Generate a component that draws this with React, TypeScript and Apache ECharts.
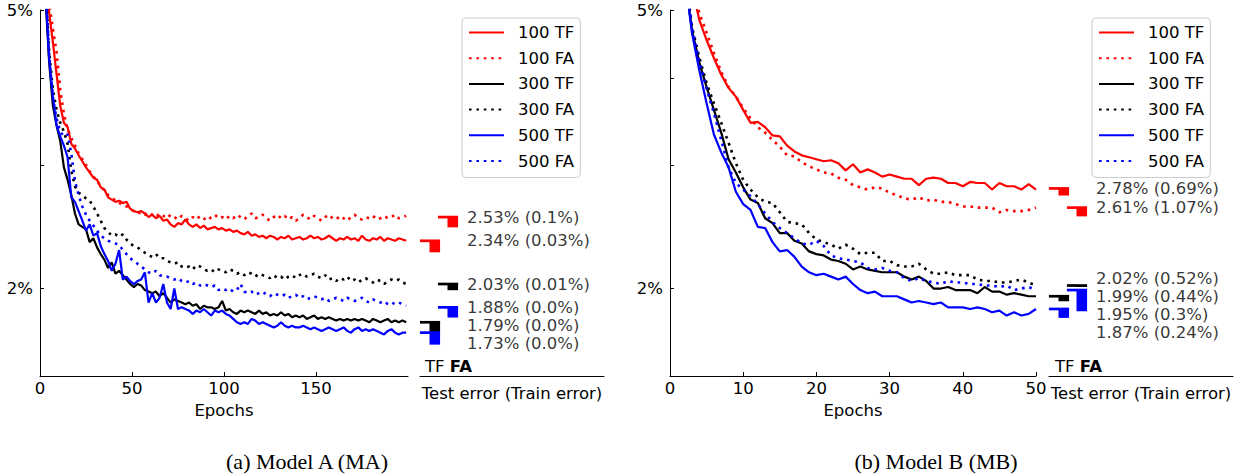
import React, { useEffect, useRef } from "react";
import * as echarts from "echarts";

const FONT = '"DejaVu Sans", sans-serif';
const SERIF = '"Liberation Serif", "Times New Roman", serif';

const seriesNames = ["100 TF", "100 FA", "300 TF", "300 FA", "500 TF", "500 FA"];
const seriesColors = ["#ff0000", "#ff0000", "#000000", "#000000", "#0000ff", "#0000ff"];
const seriesDotted = [false, true, false, true, false, true];
const markerColumn = ["TF", "FA", "TF", "FA", "TF", "FA"];
const columnIndex: Record<string, number> = { TF: 1, FA: 2 };

// ---------- Model A (MA): test error (%) at odd epochs 1..199 ----------
const epochsA = Array.from({ length: 100 }, (_, i) => 2 * i + 1);
const a100TF = [
  9.0, 6.0, 4.95, 4.5, 4.05, 3.65, 3.45, 3.40, 3.22, 3.17,
  3.10, 3.04, 2.98, 2.93, 2.88, 2.86, 2.79, 2.77, 2.70, 2.68,
  2.66, 2.67, 2.65, 2.66, 2.60, 2.58, 2.57, 2.58, 2.56, 2.53,
  2.55, 2.52, 2.54, 2.50, 2.51, 2.47, 2.45, 2.48, 2.47, 2.51,
  2.47, 2.45, 2.47, 2.44, 2.46, 2.43, 2.44, 2.45, 2.43, 2.44,
  2.42, 2.43, 2.41, 2.42, 2.40, 2.39, 2.41, 2.38, 2.39, 2.37,
  2.38, 2.36, 2.38, 2.37, 2.35, 2.37, 2.36, 2.38, 2.35, 2.36,
  2.37, 2.35, 2.36, 2.38, 2.36, 2.37, 2.35, 2.36, 2.38, 2.36,
  2.34, 2.36, 2.35, 2.37, 2.35, 2.36, 2.34, 2.38, 2.35, 2.34,
  2.36, 2.35, 2.37, 2.34, 2.36, 2.35, 2.34, 2.36, 2.35, 2.34,
];
const a100FA = [
  9.5, 6.5, 5.1, 4.7, 4.35, 3.85, 3.55, 3.38, 3.28, 3.20,
  3.12, 3.06, 3.00, 2.94, 2.89, 2.85, 2.80, 2.76, 2.72, 2.70,
  2.67, 2.65, 2.64, 2.62, 2.60, 2.58, 2.56, 2.57, 2.55, 2.57,
  2.55, 2.53, 2.56, 2.54, 2.52, 2.55, 2.53, 2.51, 2.54, 2.52,
  2.50, 2.53, 2.51, 2.54, 2.52, 2.50, 2.53, 2.55, 2.52, 2.53,
  2.51, 2.54, 2.52, 2.55, 2.53, 2.51, 2.54, 2.56, 2.52, 2.53,
  2.55, 2.52, 2.50, 2.53, 2.55, 2.52, 2.54, 2.51, 2.53, 2.50,
  2.52, 2.55, 2.53, 2.51, 2.54, 2.52, 2.50, 2.53, 2.55, 2.52,
  2.51, 2.54, 2.52, 2.50, 2.53, 2.55, 2.52, 2.51, 2.53, 2.52,
  2.54, 2.51, 2.52, 2.54, 2.52, 2.53, 2.55, 2.52, 2.53, 2.54,
];
const a300TF = [
  8.0, 5.2, 4.2, 3.65, 3.42, 3.25, 2.98, 2.86, 2.72, 2.56,
  2.47, 2.45, 2.43, 2.33, 2.36, 2.29, 2.24, 2.20, 2.14, 2.18,
  2.10, 2.12, 2.09, 2.06, 2.03, 2.01, 2.03, 2.02, 1.99, 1.98,
  1.97, 1.98, 1.95, 1.97, 1.94, 1.91, 1.93, 1.92, 1.91, 1.90,
  1.91, 1.89, 1.90, 1.87, 1.89, 1.88, 1.88, 1.87, 1.88, 1.92,
  1.86, 1.87, 1.85, 1.84, 1.86, 1.85, 1.86, 1.85, 1.84, 1.86,
  1.84, 1.85, 1.83, 1.84, 1.83, 1.85, 1.83, 1.84, 1.82, 1.83,
  1.82, 1.83, 1.81, 1.82, 1.83, 1.81, 1.82, 1.81, 1.82, 1.81,
  1.80, 1.81, 1.80, 1.81, 1.80, 1.81, 1.80, 1.81, 1.80, 1.79,
  1.81, 1.80, 1.79, 1.80, 1.81, 1.79, 1.80, 1.79, 1.80, 1.79,
];
const a300FA = [
  8.5, 5.4, 4.35, 3.85, 3.60, 3.45, 3.35, 3.22, 2.95, 2.80,
  2.74, 2.72, 2.69, 2.67, 2.62, 2.56, 2.50, 2.44, 2.41, 2.38,
  2.39, 2.37, 2.39, 2.35, 2.32, 2.30, 2.29, 2.27, 2.25, 2.23,
  2.22, 2.24, 2.21, 2.21, 2.19, 2.18, 2.17, 2.18, 2.15, 2.14,
  2.15, 2.13, 2.16, 2.15, 2.13, 2.12, 2.13, 2.11, 2.13, 2.12,
  2.11, 2.13, 2.12, 2.10, 2.11, 2.09, 2.11, 2.10, 2.08, 2.10,
  2.09, 2.08, 2.07, 2.09, 2.07, 2.08, 2.06, 2.08, 2.09, 2.07,
  2.09, 2.10, 2.08, 2.09, 2.10, 2.08, 2.07, 2.09, 2.06, 2.07,
  2.05, 2.07, 2.06, 2.08, 2.05, 2.06, 2.04, 2.06, 2.07, 2.05,
  2.04, 2.06, 2.05, 2.03, 2.05, 2.06, 2.05, 2.06, 2.04, 2.03,
];
const a500TF = [
  8.2, 5.3, 4.25, 3.76, 3.42, 3.30, 3.20, 3.08, 2.70, 2.66,
  2.58, 2.50, 2.42, 2.47, 2.38, 2.40, 2.30, 2.24, 2.19, 2.12,
  2.17, 2.27, 2.06, 2.08, 2.05, 2.03, 2.05, 2.06, 2.11, 1.91,
  1.97, 1.91, 1.94, 2.03, 1.91, 1.87, 2.00, 1.87, 1.88, 1.87,
  1.86, 1.84, 1.86, 1.85, 1.87, 1.85, 1.83, 1.86, 1.85, 1.86,
  1.84, 1.83, 1.81, 1.79, 1.78, 1.79, 1.78, 1.81, 1.80, 1.78,
  1.79, 1.78, 1.77, 1.76, 1.77, 1.79, 1.77, 1.76, 1.77, 1.76,
  1.76, 1.77, 1.76, 1.75, 1.76, 1.75, 1.74, 1.75, 1.76, 1.75,
  1.74, 1.75, 1.76, 1.74, 1.73, 1.75, 1.76, 1.74, 1.75, 1.74,
  1.75, 1.74, 1.73, 1.72, 1.74, 1.75, 1.73, 1.72, 1.73, 1.73,
];
const a500FA = [
  8.8, 5.5, 4.3, 3.75, 3.50, 3.35, 3.30, 3.32, 3.12, 2.85,
  2.72, 2.62, 2.55, 2.50, 2.46, 2.42, 2.38, 2.36, 2.34, 2.33,
  2.32, 2.31, 2.27, 2.24, 2.21, 2.19, 2.17, 2.15, 2.13, 2.11,
  2.10, 2.12, 2.09, 2.08, 2.08, 2.07, 2.06, 2.07, 2.05, 2.04,
  2.05, 2.03, 2.04, 2.02, 2.03, 2.02, 2.01, 2.02, 1.99, 2.00,
  1.99, 2.00, 1.98, 1.99, 2.03, 1.98, 1.97, 1.98, 1.96, 1.97,
  1.98, 1.96, 1.95, 1.97, 1.96, 1.95, 1.96, 1.94, 1.95, 1.96,
  1.94, 1.95, 1.93, 1.94, 1.95, 1.94, 1.93, 1.94, 1.92, 1.93,
  1.94, 1.93, 1.92, 1.94, 1.93, 1.92, 1.93, 1.94, 1.92, 1.91,
  1.93, 1.92, 1.91, 1.92, 1.90, 1.91, 1.90, 1.91, 1.90, 1.89,
];
const finalTestA = [2.34, 2.53, 1.79, 2.03, 1.73, 1.88];
const finalTrainA = ["0.03", "0.1", "0.0", "0.01", "0.0", "0.0"];
const markerLowA = [2.253, 2.446, 1.732, 1.989, 1.663, 1.818];

// ---------- Model B (MB): test error (%) at epochs 1..50 ----------
const epochsB = Array.from({ length: 50 }, (_, i) => i + 1);
const b100TF = [
  8.0, 6.5, 5.4, 4.84, 4.53, 4.27, 4.04, 3.87, 3.76, 3.60,
  3.45, 3.46, 3.40, 3.31, 3.30, 3.20, 3.14, 3.10, 3.08, 3.06,
  3.04, 3.05, 3.02, 2.95, 3.01, 2.93, 2.96, 2.93, 2.89, 2.91,
  2.89, 2.87, 2.87, 2.81, 2.87, 2.88, 2.87, 2.83, 2.83, 2.80,
  2.84, 2.83, 2.83, 2.77, 2.83, 2.80, 2.80, 2.77, 2.82, 2.77,
];
const b100FA = [
  8.5, 6.8, 5.6, 4.95, 4.64, 4.34, 4.08, 3.88, 3.76, 3.62,
  3.50, 3.40, 3.34, 3.26, 3.19, 3.10, 3.09, 3.03, 2.99, 2.96,
  2.93, 2.92, 2.88, 2.86, 2.81, 2.79, 2.77, 2.79, 2.78, 2.74,
  2.72, 2.69, 2.68, 2.70, 2.67, 2.68, 2.66, 2.66, 2.64, 2.62,
  2.62, 2.61, 2.61, 2.61, 2.57, 2.59, 2.58, 2.58, 2.59, 2.61,
];
const b300TF = [
  9.0, 5.6, 4.68, 4.21, 3.88, 3.60, 3.34, 3.06, 2.93, 2.79,
  2.68, 2.65, 2.52, 2.48, 2.40, 2.40, 2.34, 2.32, 2.26, 2.24,
  2.23, 2.20, 2.19, 2.17, 2.13, 2.15, 2.13, 2.12, 2.11, 2.11,
  2.11, 2.08, 2.06, 2.08, 2.05, 2.00, 2.00, 2.01, 1.99, 1.99,
  1.99, 1.97, 2.01, 1.98, 1.98, 1.96, 1.97, 1.96, 1.95, 1.95,
];
const b300FA = [
  9.0, 5.7, 4.73, 4.28, 3.93, 3.68, 3.45, 3.23, 3.02, 2.86,
  2.77, 2.70, 2.66, 2.65, 2.57, 2.49, 2.48, 2.47, 2.40, 2.35,
  2.33, 2.31, 2.28, 2.31, 2.28, 2.24, 2.25, 2.25, 2.19, 2.19,
  2.16, 2.15, 2.15, 2.17, 2.13, 2.10, 2.10, 2.11, 2.09, 2.09,
  2.09, 2.06, 2.05, 2.05, 2.04, 2.04, 2.05, 2.06, 2.04, 2.02,
];
const b500TF = [
  9.0, 5.6, 4.64, 4.10, 3.68, 3.32, 3.13, 2.98, 2.75, 2.64,
  2.59, 2.45, 2.44, 2.33, 2.26, 2.27, 2.22, 2.15, 2.11, 2.09,
  2.10, 2.08, 2.06, 2.08, 2.03, 1.99, 1.97, 1.98, 1.95, 1.95,
  1.95, 1.93, 1.91, 1.92, 1.91, 1.90, 1.91, 1.88, 1.88, 1.88,
  1.87, 1.88, 1.87, 1.85, 1.86, 1.83, 1.85, 1.83, 1.84, 1.87,
];
const b500FA = [
  8.0, 5.8, 4.72, 4.22, 3.86, 3.56, 3.26, 2.98, 2.83, 2.77,
  2.71, 2.64, 2.56, 2.49, 2.44, 2.40, 2.36, 2.32, 2.31, 2.34,
  2.30, 2.23, 2.21, 2.20, 2.19, 2.18, 2.14, 2.13, 2.14, 2.12,
  2.11, 2.07, 2.05, 2.07, 2.05, 2.04, 2.03, 2.05, 2.04, 2.04,
  2.03, 2.03, 2.02, 2.02, 2.01, 2.02, 1.99, 2.00, 2.01, 1.99,
];
const finalTestB = [2.78, 2.61, 1.95, 2.02, 1.87, 1.99];
const finalTrainB = ["0.69", "1.07", "0.3", "0.52", "0.24", "0.44"];
const markerLowB = [2.716, 2.536, 1.918, 2.01, 1.816, 1.856];

const yTicks = [2, 3, 4, 5];
const yLabels = [2, 5];
const xTicksA = [0, 50, 100, 150];
const xTicksB = [0, 10, 20, 30, 40, 50];

type PanelData = {
  epochs: number[];
  curves: number[][];
  test: number[];
  train: string[];
  low: number[];
  xMax: number;
  xTicks: number[];
  caption: string;
};
type PanelLayout = {
  plotLeft: number;
  plotWidth: number;
  annLeft: number;
  legendLeft: number;
  tfLeft: number;
  captionX: number;
  labelGap: number;
  labelBalance: number;
};

const panelA: PanelData = {
  epochs: epochsA,
  curves: [a100TF, a100FA, a300TF, a300FA, a500TF, a500FA],
  test: finalTestA,
  train: finalTrainA,
  low: markerLowA,
  xMax: 200,
  xTicks: xTicksA,
  caption: "(a) Model A (MA)",
};
const panelB: PanelData = {
  epochs: epochsB,
  curves: [b100TF, b100FA, b300TF, b300FA, b500TF, b500FA],
  test: finalTestB,
  train: finalTrainB,
  low: markerLowB,
  xMax: 50,
  xTicks: xTicksB,
  caption: "(b) Model B (MB)",
};

const layoutA: PanelLayout = { plotLeft: 40, plotWidth: 368, annLeft: 420, legendLeft: 462, tfLeft: 425, captionX: 307, labelGap: 18, labelBalance: 0 };
const layoutB: PanelLayout = { plotLeft: 48, plotWidth: 366, annLeft: 427, legendLeft: 470, tfLeft: 433, captionX: 314, labelGap: 18, labelBalance: 0.4 };

const TOP = 10;
const HEIGHT = 366;
const FS = 16.5;

function labelText(p: PanelData, i: number) {
  return `${p.test[i].toFixed(2)}% (${p.train[i]}%)`;
}

function buildOption(p: PanelData, L: PanelLayout): any {
  const textBase = { fontFamily: FONT, fontSize: FS, color: "#000" };
  const lines = seriesNames.map((name, i) => ({
    name,
    type: "line",
    xAxisIndex: 0,
    yAxisIndex: 0,
    showSymbol: false,
    symbol: "none",
    clip: true,
    z: 2 + i,
    data: p.epochs.map((e, j) => [e, p.curves[i][j]]),
    lineStyle: {
      color: seriesColors[i],
      width: seriesDotted[i] ? 2.6 : 2.2,
      type: seriesDotted[i] ? [2.6, 4.8] : "solid",
      cap: "butt",
    },
    itemStyle: { color: seriesColors[i] },
    emphasis: { disabled: true },
  }));

  const markers = {
    type: "custom",
    xAxisIndex: 1,
    yAxisIndex: 1,
    clip: false,
    silent: true,
    data: p.test.map((v, i) => [columnIndex[markerColumn[i]], v, p.low[i]]),
    renderItem: (params: any, api: any) => {
      const x = api.value(0);
      const v = api.value(1);
      const lo = api.value(2);
      const top = api.coord([x, v]);
      const bot = api.coord([x, lo]);
      const unit = api.coord([x + 1, v])[0] - top[0];
      const c = seriesColors[params.dataIndex];
      const half = unit * 0.56;
      return {
        type: "group",
        children: [
          { type: "rect", shape: { x: top[0] - half, y: top[1] - 1.35, width: 2 * half, height: 2.7 }, style: { fill: c } },
          { type: "rect", shape: { x: top[0] - 0.5, y: top[1], width: half + 0.5, height: Math.max(0, bot[1] - top[1]) }, style: { fill: c } },
        ],
      };
    },
  };

  const labels = {
    id: "labels",
    type: "scatter",
    xAxisIndex: 1,
    yAxisIndex: 1,
    symbolSize: 1,
    silent: true,
    itemStyle: { color: "transparent" },
    data: p.test.map((v) => [columnIndex.FA, v]),
    label: {
      show: true,
      position: "right",
      distance: 18.5,
      ...textBase,
      formatter: (prm: any) => labelText(p, prm.dataIndex),
    },
    emphasis: { disabled: true },
  };

  const legend = {
    data: seriesNames,
    orient: "vertical",
    left: L.legendLeft,
    top: 18,
    itemWidth: 35,
    itemHeight: 14,
    itemGap: 8.7,
    padding: [6, 6, 8, 6],
    borderColor: "#cccccc",
    borderWidth: 1,
    borderRadius: 4,
    backgroundColor: "#ffffff",
    selectedMode: false,
    itemStyle: { opacity: 0, borderWidth: 0 },
    textStyle: { ...textBase, lineHeight: 16, padding: [0, 0, 0, 9] },
  };

  return {
    animation: false,
    backgroundColor: "#ffffff",
    textStyle: { fontFamily: FONT },
    grid: [
      { left: L.plotLeft, top: TOP, width: L.plotWidth, height: HEIGHT, containLabel: false },
      { left: L.annLeft, top: TOP, width: 184, height: HEIGHT, containLabel: false },
    ],
    xAxis: [
      {
        gridIndex: 0,
        type: "value",
        min: 0,
        max: p.xMax,
        axisLine: { show: true, lineStyle: { color: "#000", width: 1 } },
        axisTick: { show: true, inside: true, length: 4, customValues: p.xTicks, lineStyle: { color: "#000" } },
        axisLabel: { show: true, customValues: p.xTicks, margin: 4, ...textBase },
        splitLine: { show: false },
        name: "Epochs",
        nameLocation: "middle",
        nameGap: 25,
        nameTextStyle: { ...textBase, verticalAlign: "top" },
      },
      {
        gridIndex: 1,
        type: "value",
        min: 0.4444,
        max: 10.667,
        axisLine: { show: true, lineStyle: { color: "#000", width: 1 } },
        axisTick: { show: false },
        axisLabel: { show: false },
        splitLine: { show: false },
        name: "Test error (Train error)",
        nameLocation: "middle",
        nameGap: 8.5,
        nameTextStyle: { ...textBase, verticalAlign: "top" },
      },
    ],
    yAxis: [
      {
        gridIndex: 0,
        type: "log",
        min: 1.5,
        max: 5,
        axisLine: { show: true, lineStyle: { color: "#000", width: 1 } },
        axisTick: { show: true, inside: true, length: 4, customValues: yTicks, lineStyle: { color: "#000" } },
        axisLabel: { show: true, customValues: yLabels, margin: 7, ...textBase, formatter: (v: number) => `${v}%` },
        splitLine: { show: false },
      },
      { gridIndex: 1, type: "log", min: 1.5, max: 5, show: false },
    ],
    legend,
    graphic: [
      {
        type: "text",
        x: L.tfLeft,
        y: 366.7,
        silent: true,
        style: {
          text: "{n|TF} {b|FA}",
          align: "left",
          verticalAlign: "middle",
          font: `${FS}px ${FONT}`,
          fill: "#000",
          rich: {
            n: { fontFamily: FONT, fontSize: FS, fill: "#000" },
            b: { fontFamily: FONT, fontSize: FS, fontWeight: "bold", fill: "#000" },
          },
        },
      },
      {
        type: "text",
        x: L.captionX,
        y: 461,
        silent: true,
        style: {
          text: p.caption,
          align: "center",
          verticalAlign: "middle",
          font: `22px ${SERIF}`,
          fill: "#000",
        },
      },
    ],
    series: [...lines, markers, labels],
  };
}

// Spread the end-value labels apart (top to bottom) so that they do not overlap;
// each crowded cluster is then moved back up by a fraction of its mean shift.
function spreadLabels(chart: any, p: PanelData, L: PanelLayout) {
  const ys = p.test.map((v) => {
    const pt = chart.convertToPixel({ xAxisIndex: 1, yAxisIndex: 1 }, [columnIndex.FA, v]);
    return pt[1];
  });
  const order = ys.map((_, i) => i).sort((a, b) => ys[a] - ys[b]);
  const placed = ys.slice();
  const clusters: number[][] = [];
  let last = -Infinity;
  for (const i of order) {
    const y = Math.max(ys[i], last + L.labelGap);
    if (y > ys[i] && clusters.length) clusters[clusters.length - 1].push(i);
    else clusters.push([i]);
    placed[i] = y;
    last = y;
  }
  for (const c of clusters) {
    if (c.length < 2) continue;
    const mean = c.reduce((s, i) => s + (placed[i] - ys[i]), 0) / c.length;
    for (const i of c) placed[i] -= mean * L.labelBalance;
  }
  chart.setOption({
    series: [
      {
        id: "labels",
        data: p.test.map((v, i) => ({ value: [columnIndex.FA, v], label: { offset: [0, placed[i] - ys[i]] } })),
      },
    ],
  });
}

export default function App() {
  const leftRef = useRef<HTMLDivElement>(null);
  const rightRef = useRef<HTMLDivElement>(null);
  useEffect(() => {
    const a = echarts.init(leftRef.current as HTMLDivElement, null, { renderer: "svg" });
    const b = echarts.init(rightRef.current as HTMLDivElement, null, { renderer: "svg" });
    a.setOption(buildOption(panelA, layoutA));
    b.setOption(buildOption(panelB, layoutB));
    spreadLabels(a, panelA, layoutA);
    spreadLabels(b, panelB, layoutB);
    return () => {
      a.dispose();
      b.dispose();
    };
  }, []);
  return (
    <div style={{ position: "absolute", left: 0, top: 0, width: 1245, height: 476, background: "#fff" }}>
      <div ref={leftRef} style={{ position: "absolute", left: 0, top: 0, width: 622, height: 476 }} />
      <div ref={rightRef} style={{ position: "absolute", left: 622, top: 0, width: 623, height: 476 }} />
    </div>
  );
}
